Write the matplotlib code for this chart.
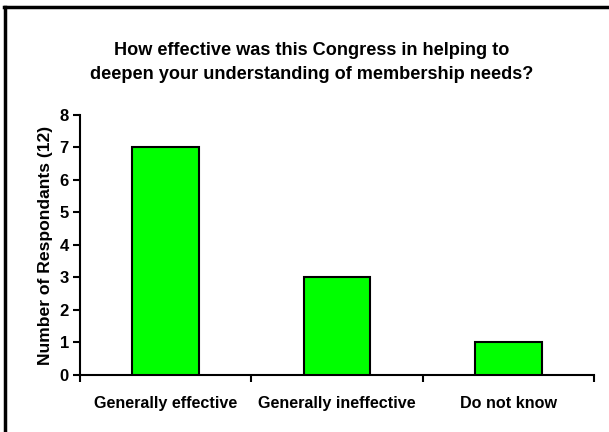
import matplotlib.pyplot as plt
from matplotlib.lines import Line2D

categories = ["Generally effective", "Generally ineffective", "Do not know"]
respondents = [7, 3, 1]

plt.rcParams['font.family'] = ['Liberation Sans', 'DejaVu Sans']
plt.rcParams['font.weight'] = 'bold'

fig = plt.figure(figsize=(6.09, 4.32), dpi=100)
ax = fig.add_axes([0.1314, 0.132, 0.844, 0.602])

x = list(range(len(categories)))
ax.bar(x, respondents, width=0.39, color='#00FF00', edgecolor='black', linewidth=1.5, zorder=3)

ax.set_xlim(-0.5, len(categories) - 0.5)
ax.set_ylim(0, 8)
ax.set_yticks(range(0, 9))

# category labels without marks, tick marks between categories
ax.set_xticks(x)
ax.set_xticklabels(categories, fontsize=11.6, fontweight='bold')
ax.tick_params(axis='x', which='major', length=0, pad=15)
ax.set_xticks([i - 0.5 for i in range(len(categories) + 1)], minor=True)
ax.tick_params(axis='x', which='minor', length=5, width=1.5, direction='out')
ax.tick_params(axis='y', length=5, width=1.5, direction='out', labelsize=12, pad=3)
for lbl in ax.get_yticklabels():
    lbl.set_fontweight('bold')

for side in ['top', 'right']:
    ax.spines[side].set_visible(False)
for side in ['left', 'bottom']:
    ax.spines[side].set_linewidth(1.5)

ax.set_ylabel("Number of Respondants (12)", fontsize=12.6, fontweight='bold', labelpad=5)

fig.text(0.511, 0.855, "How effective was this Congress in helping to\ndeepen your understanding of membership needs?",
         ha='center', va='center', fontsize=13.1, fontweight='bold', linespacing=1.5)

# frame lines along the top and left edges
fig.add_artist(Line2D([0.007, 1.0], [0.983, 0.983], color='black', linewidth=2.5, transform=fig.transFigure))
fig.add_artist(Line2D([0.009, 0.009], [0.0, 0.983], color='black', linewidth=2.5, transform=fig.transFigure))

fig.savefig("out.png", dpi=100)
